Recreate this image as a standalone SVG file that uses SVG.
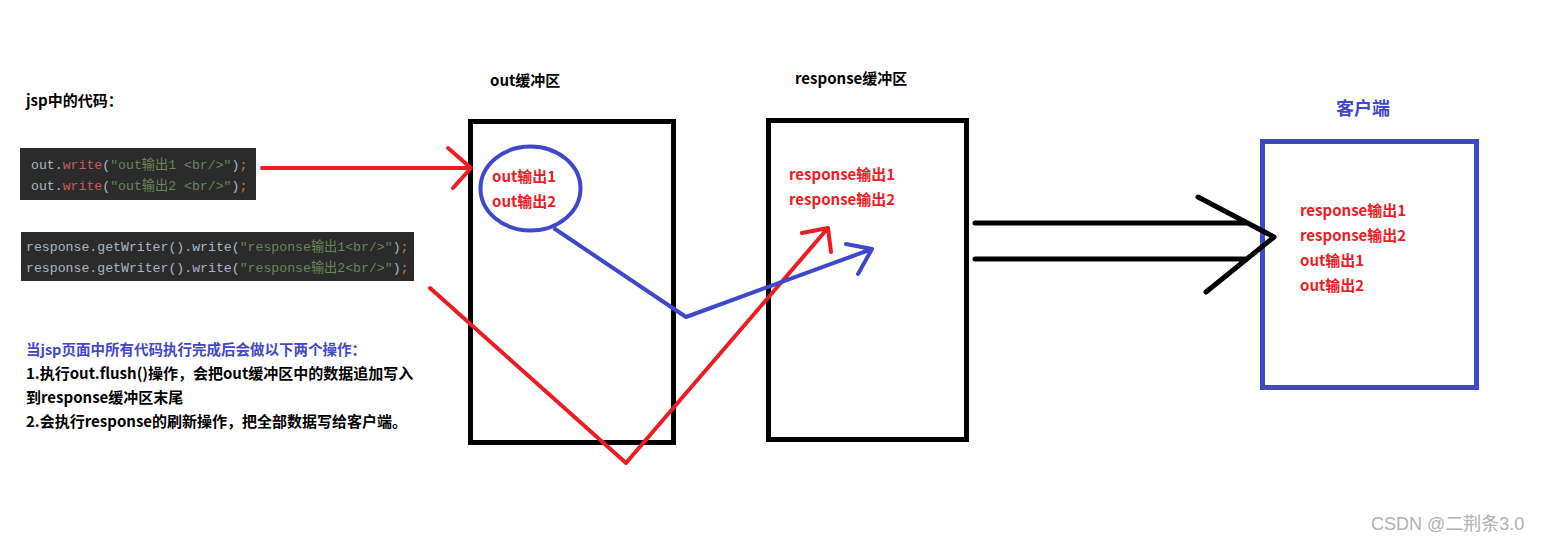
<svg xmlns="http://www.w3.org/2000/svg" width="1546" height="542" viewBox="0 0 1546 542">
<style>
.b{font-family:"Noto Sans CJK SC","Noto Sans",sans-serif;font-weight:bold}
.lbl{font-size:15px;fill:#000}
.red{font-size:15px;fill:#ed1c24}
.note{font-size:15px;fill:#000}
.code{font-family:"Liberation Mono","Noto Sans CJK SC",monospace;font-size:13.2px}
.id{fill:#a9b7c6}
.fn{fill:#cc5c58}
.str{fill:#6a8759}
.sc{fill:#cc7832}
.box{fill:none;stroke:#000;stroke-width:5}
.rl{fill:none;stroke:#ed1c24;stroke-width:4;stroke-linecap:round;stroke-linejoin:round}
.bl{fill:none;stroke:#3f48cc;stroke-width:4;stroke-linecap:round;stroke-linejoin:round}
.kl{fill:none;stroke:#000;stroke-width:5;stroke-linecap:round;stroke-linejoin:round}
</style>
<rect width="1546" height="542" fill="#fff"/>
<g id="title">
<text class="b" x="26" y="106" font-size="15" fill="#000">jsp中的代码：</text>
</g>
<g id="code1">
<rect x="20" y="148" width="236" height="52" fill="#2b2b2b"/>
<text class="code" x="31" y="169"><tspan class="id">out</tspan><tspan class="id">.</tspan><tspan class="fn">write</tspan><tspan class="id">(</tspan><tspan class="str">"out输出1 &lt;br/&gt;"</tspan><tspan class="id">)</tspan><tspan class="sc">;</tspan></text>
<text class="code" x="31" y="190"><tspan class="id">out</tspan><tspan class="id">.</tspan><tspan class="fn">write</tspan><tspan class="id">(</tspan><tspan class="str">"out输出2 &lt;br/&gt;"</tspan><tspan class="id">)</tspan><tspan class="sc">;</tspan></text>
</g>
<g id="code2">
<rect x="21" y="232" width="393" height="49" fill="#2b2b2b"/>
<text class="code" x="26" y="251"><tspan class="id">response.getWriter().write(</tspan><tspan class="str">"response输出1&lt;br/&gt;"</tspan><tspan class="id">)</tspan><tspan class="sc">;</tspan></text>
<text class="code" x="26" y="272"><tspan class="id">response.getWriter().write(</tspan><tspan class="str">"response输出2&lt;br/&gt;"</tspan><tspan class="id">)</tspan><tspan class="sc">;</tspan></text>
</g>
<g id="notes">
<text class="b" x="26" y="355" font-size="14.5" fill="#3f48cc">当jsp页面中所有代码执行完成后会做以下两个操作：</text>
<text class="b note" x="26" y="379">1.执行out.flush()操作，会把out缓冲区中的数据追加写入</text>
<text class="b note" x="26" y="403">到response缓冲区末尾</text>
<text class="b note" x="26" y="427">2.会执行response的刷新操作，把全部数据写给客户端。</text>
</g>
<g id="outBuffer">
<text class="b lbl" x="490" y="86">out缓冲区</text>
<rect class="box" x="470.5" y="121.5" width="203" height="321"/>
<ellipse cx="530.5" cy="188.5" rx="50" ry="42" fill="none" stroke="#3f48cc" stroke-width="4"/>
<text class="b red" x="492" y="182">out输出1</text>
<text class="b red" x="492" y="207">out输出2</text>
</g>
<g id="responseBuffer">
<text class="b lbl" x="795" y="84">response缓冲区</text>
<rect class="box" x="768.5" y="120.5" width="198" height="319"/>
<text class="b red" x="789" y="180">response输出1</text>
<text class="b red" x="789" y="205">response输出2</text>
</g>
<g id="client">
<text class="b" x="1336" y="115" font-size="18" fill="#3f48cc">客户端</text>
<rect x="1262.5" y="141.5" width="214" height="246" fill="none" stroke="#3f48cc" stroke-width="5"/>
<text class="b red" x="1300" y="216">response输出1</text>
<text class="b red" x="1300" y="241">response输出2</text>
<text class="b red" x="1300" y="266">out输出1</text>
<text class="b red" x="1300" y="291">out输出2</text>
</g>
<g id="connectors">
<path class="rl" d="M262 168 H470 M448 148 L471 168 L453 188"/>
<path class="rl" d="M430 288 L626 463 L828 228 M802 233 L828 228 L831 252"/>
<path class="bl" d="M555 229 L686 317 L872 249 M846 244 L872 249 L858 274"/>
<path class="kl" d="M975 223 H1246 M975 259 H1246 M1198 197 L1274 237 L1206 292"/>
</g>
<g id="watermark">
<text x="1371" y="530" font-family="'Liberation Sans','Noto Sans CJK SC',sans-serif" font-size="18" fill="#b0b0b0">CSDN @二荆条3.0</text>
</g>
</svg>
